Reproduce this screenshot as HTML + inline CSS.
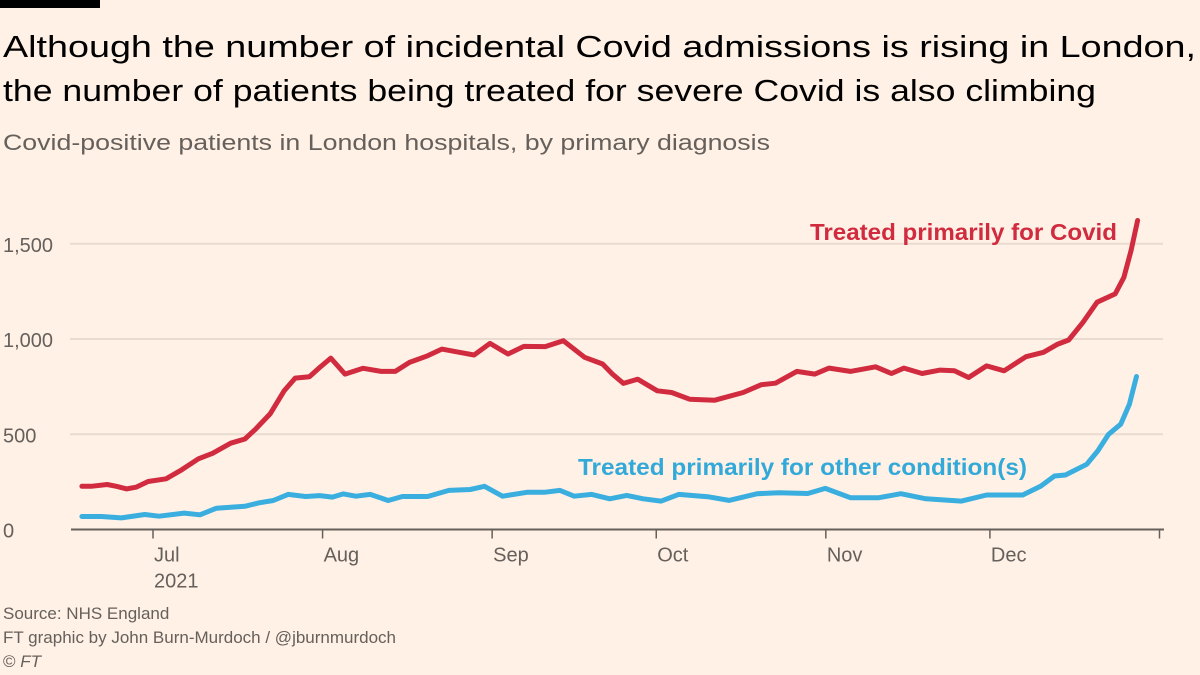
<!DOCTYPE html>
<html><head><meta charset="utf-8"><style>
html,body{margin:0;padding:0;background:#fff1e5;}
svg{display:block;font-family:"Liberation Sans",sans-serif;}
</style></head><body>
<svg id="chart" width="1200" height="675" viewBox="0 0 1200 675" xmlns="http://www.w3.org/2000/svg">
<rect width="1200" height="675" fill="#fff1e5"/>
<rect x="0" y="0" width="100" height="8" fill="#000"/>
<text x="3" y="57" font-size="31" fill="#000" textLength="1193" lengthAdjust="spacingAndGlyphs">Although the number of incidental Covid admissions is rising in London,</text>
<text x="3" y="101" font-size="31" fill="#000" textLength="1093" lengthAdjust="spacingAndGlyphs">the number of patients being treated for severe Covid is also climbing</text>
<text x="3" y="150" font-size="22" fill="#66605c" textLength="767" lengthAdjust="spacingAndGlyphs">Covid-positive patients in London hospitals, by primary diagnosis</text>
<g id="grid"></g>
<g id="yticks"></g>
<g id="xaxis"></g>
<g id="series"></g>
<text x="1117" y="240" font-size="23" fill="#cc0a2f" font-weight="bold" text-anchor="end" textLength="307" lengthAdjust="spacingAndGlyphs" style="fill:#d12b3f">Treated primarily for Covid</text>
<text x="1027" y="475" font-size="23" font-weight="bold" textLength="449" lengthAdjust="spacingAndGlyphs" style="fill:#32a9d9" text-anchor="end">Treated primarily for other condition(s)</text>
<text x="3" y="619" font-size="17" fill="#66605c">Source: NHS England</text>
<text x="3" y="643" font-size="17" fill="#66605c">FT graphic by John Burn-Murdoch / @jburnmurdoch</text>
<text x="3" y="667" font-size="17" fill="#66605c">© <tspan font-style="italic">FT</tspan></text>
</svg>
<script>
const yTicks=[0,500,1000,1500];
const yTickLabels=["0","500","1,000","1,500"];
const monthDays=[0,31,62,92,123,153,184];
const monthLabels=["Jul","Aug","Sep","Oct","Nov","Dec",""];
const covidDays=[-13,-11.3,-8.4,-6.7,-4.8,-3.1,-0.9,2.4,5,8.3,10.9,14.2,16.8,18.8,21.4,24,26,28.6,30.5,32.5,35.1,38.4,41.7,44.3,46.9,50.2,52.8,56,58.7,61.6,64.9,67.8,71.7,75,78.9,82.2,84,86,88.6,92.2,94.8,98.1,102.7,107.9,111.2,113.8,117.7,121,123.6,127.5,132.1,135,137.3,140.6,143.9,146.5,149.1,152.4,155.6,159.6,162.8,165.4,167.4,170,172.6,175.9,177.5,178.8,180];
const covidValues=[227,227,236,227,213,222,252,266,309,371,400,453,475,528,607,729,795,802,851,900,816,846,830,830,877,912,947,930,916,977,921,961,960,991,904,869,816,767,789,728,719,684,679,719,760,768,830,816,847,830,854,819,847,819,837,833,798,859,833,907,930,973,995,1087,1193,1237,1324,1465,1622];
const otherDays=[-13,-9.4,-5.8,-1.5,1.1,5.7,8.6,11.6,16.8,19.4,22,24.7,27.9,30.5,32.8,34.8,37.1,39.7,43,45.6,50.2,54.1,58,60.6,63.9,68.5,71.7,74.4,77,80.2,83.5,86.6,89.6,92.9,96.1,101.4,105.3,110.5,114.4,119.7,122.9,127.5,132.7,136.7,141.3,147.8,152.4,159,162.3,164.8,166.8,170.7,172.7,174.7,176.9,178.5,179.8];
const otherValues=[68,68,61,79,70,86,77,112,122,140,152,184,173,178,170,187,175,184,152,173,173,205,210,227,175,196,196,205,175,184,161,179,161,149,184,172,153,188,193,189,216,167,167,188,161,149,181,181,228,281,286,342,412,500,553,658,803];

const NS="http://www.w3.org/2000/svg";
const x0=153,pxPerDay=1006.5/184,y0=529.5,pxPerUnit=190.5/1000;
const xs=d=>x0+d*pxPerDay, ys=v=>y0-v*pxPerUnit;
function mk(tag,attrs,parent){const e=document.createElementNS(NS,tag);for(const k in attrs)e.setAttribute(k,attrs[k]);parent.appendChild(e);return e;}
const grid=document.getElementById('grid'),yt=document.getElementById('yticks'),xa=document.getElementById('xaxis'),ser=document.getElementById('series');
yTicks.forEach((v,i)=>{
  if(v>0){const l=mk('line',{x1:70,x2:1163,y1:ys(v),y2:ys(v),stroke:'#e9dbcf','stroke-width':2},grid);
  
  }
  const t=mk('text',{x:3,y:ys(v)+8,'font-size':20,fill:'#66605c'},yt);t.textContent=yTickLabels[i];
  
  
});
const ax=mk('line',{x1:71,x2:1164,y1:y0,y2:y0,stroke:'#66605c','stroke-width':2},xa);


monthDays.forEach((d,i)=>{
  const tk=mk('line',{x1:xs(d),x2:xs(d),y1:y0,y2:y0+9,stroke:'#66605c','stroke-width':1.5},xa);
  
  
  if(monthLabels[i]){const t=mk('text',{x:xs(d)+1,y:y0+32,'font-size':20,fill:'#66605c'},xa);t.textContent=monthLabels[i];
  
  }
});
const yr=mk('text',{x:xs(0)+1,y:y0+58,'font-size':20,fill:'#66605c'},xa);yr.textContent='2021';


function path(days,vals){return days.map((d,i)=>(i?'L':'M')+xs(d).toFixed(1)+','+ys(vals[i]).toFixed(1)).join(' ');}
const pb=mk('path',{d:path(otherDays,otherValues),fill:'none',stroke:'#3aaedf','stroke-width':5,'stroke-linejoin':'round','stroke-linecap':'round'},ser);


const pr=mk('path',{d:path(covidDays,covidValues),fill:'none',stroke:'#d12b3f','stroke-width':5,'stroke-linejoin':'round','stroke-linecap':'round'},ser);


</script>
</body></html>
